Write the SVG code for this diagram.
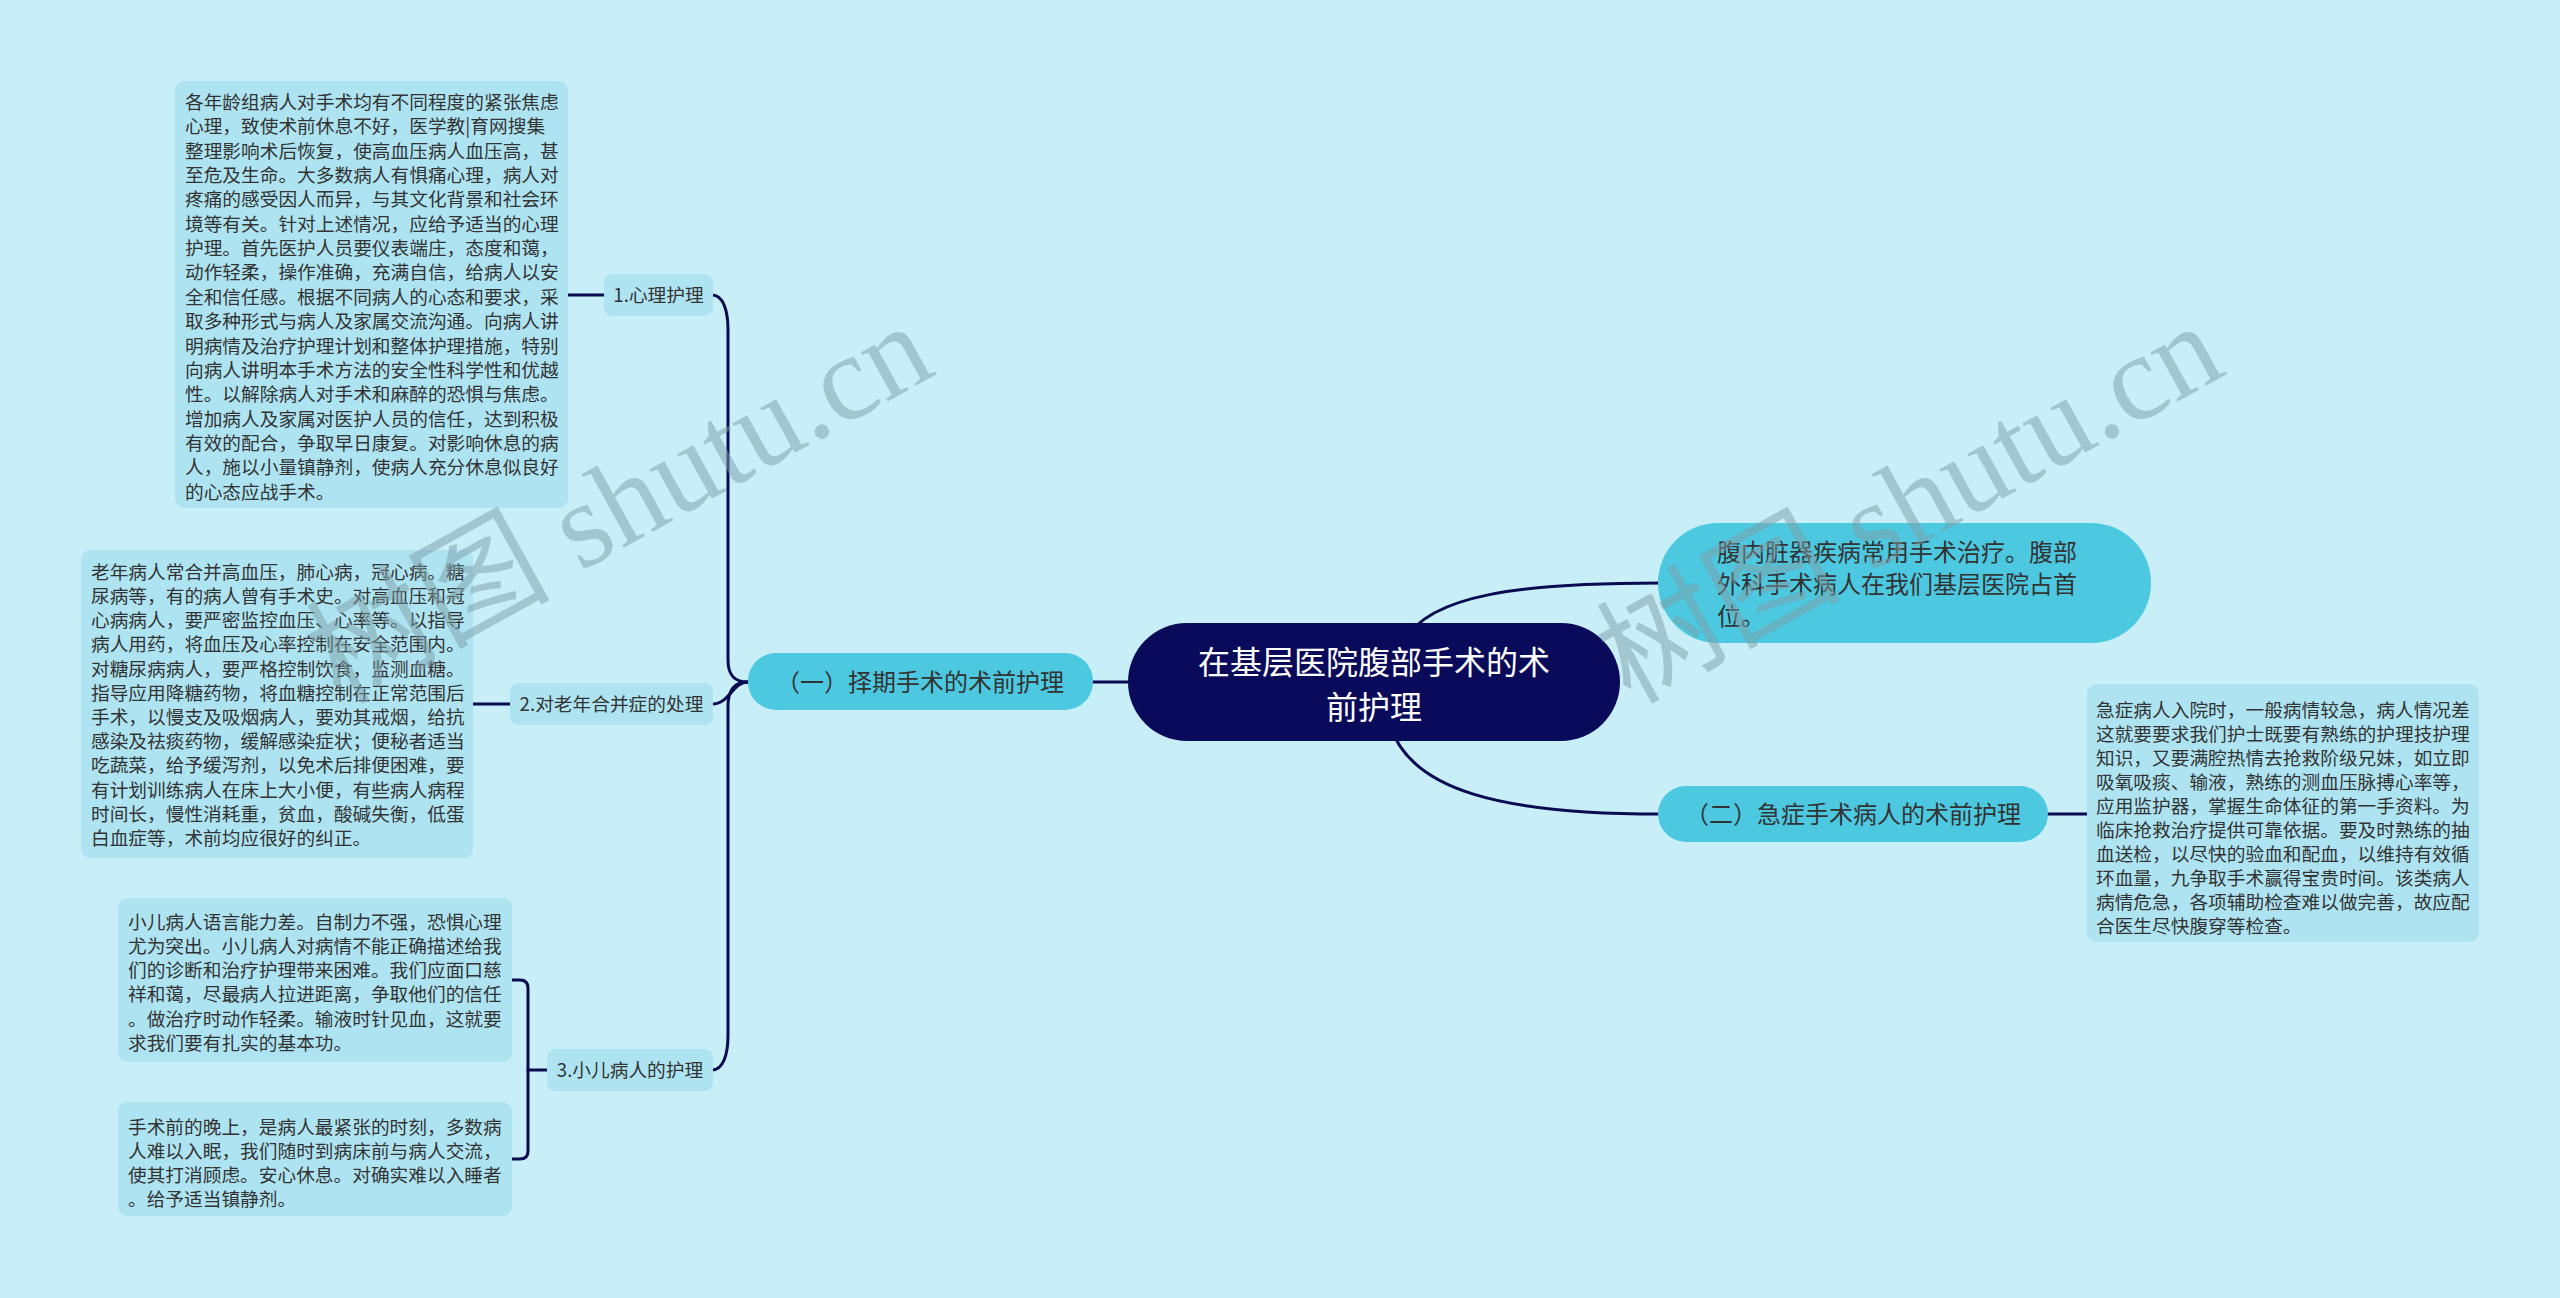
<svg xmlns="http://www.w3.org/2000/svg" width="2560" height="1298" viewBox="0 0 2560 1298">
<style>
text{font-family:"Noto Sans CJK SC","Noto Sans",sans-serif;fill:#333333}
.box{fill:#AEE4F1}
.main{fill:#4CC8E0}
.t{font-size:18.7px}
.m{font-size:24px}
.c{font-size:32px;fill:#FFFFFF}
.conn{fill:none;stroke:#0A0A52;stroke-width:3;stroke-linecap:round}
.wm{font-family:"Liberation Serif","Noto Sans CJK SC",serif;font-size:122px;fill:#7E9FA8;opacity:0.5}
</style>
<rect x="0" y="0" width="2560" height="1298" fill="#C8EFF7"/>
<g id="connectors">
<path class="conn" d="M1405,640 C1430,595 1520,583 1660,583"/>
<path class="conn" d="M1390,725 C1410,790 1500,814 1660,814"/>
<path class="conn" d="M1093,682 H1130"/>
<path class="conn" d="M748,682 C735,682 728,676 728,660 L728,330 C728,310 723,295 712,295"/>
<path class="conn" d="M748,682 C732,682 730,704 712,704"/>
<path class="conn" d="M748,682 C735,682 728,690 728,706 L728,1035 C728,1055 723,1070 712,1070"/>
<path class="conn" d="M604,295 H568"/>
<path class="conn" d="M510,704 H473"/>
<path class="conn" d="M547,1070 H528"/>
<path class="conn" d="M512,980 H520 Q528,980 528,988 V1151 Q528,1159 520,1159 H512"/>
<path class="conn" d="M2048,814 H2087"/>
</g>
<g id="center">
<rect x="1128" y="623" width="492" height="118" rx="59" fill="#0A0A5A"/>
<text class="c" x="1374" y="674" text-anchor="middle">在基层医院腹部手术的术</text>
<text class="c" x="1374" y="719" text-anchor="middle">前护理</text>
</g>
<g id="intro">
<rect class="main" x="1658" y="523" width="493" height="120" rx="60"/>
<text class="m" x="1717" y="561">腹内脏器疾病常用手术治疗。腹部</text>
<text class="m" x="1717" y="593">外科手术病人在我们基层医院占首</text>
<text class="m" x="1717" y="625">位。</text>
</g>
<g id="branch1">
<rect class="main" x="748" y="653" width="345" height="57" rx="28"/>
<text class="m" x="920" y="691" text-anchor="middle">（一）择期手术的术前护理</text>
</g>
<g id="branch2">
<rect class="main" x="1658" y="786" width="390" height="56" rx="28"/>
<text class="m" x="1853" y="823" text-anchor="middle">（二）急症手术病人的术前护理</text>
</g>
<g id="sub1">
<rect class="box" x="604" y="274" width="109" height="42" rx="8"/>
<text class="t" x="658.5" y="302" text-anchor="middle">1.心理护理</text>
</g>
<g id="sub2">
<rect class="box" x="510" y="683" width="203" height="42" rx="8"/>
<text class="t" x="611.5" y="711" text-anchor="middle">2.对老年合并症的处理</text>
</g>
<g id="sub3">
<rect class="box" x="547" y="1049" width="166" height="42" rx="8"/>
<text class="t" x="630" y="1077" text-anchor="middle">3.小儿病人的护理</text>
</g>
<g id="detail1">
<rect class="box" x="175" y="81" width="393" height="427" rx="9"/>
<text class="t" x="185" y="109">各年龄组病人对手术均有不同程度的紧张焦虑</text>
<text class="t" x="185" y="133.35">心理，致使术前休息不好，医学教|育网搜集</text>
<text class="t" x="185" y="157.7">整理影响术后恢复，使高血压病人血压高，甚</text>
<text class="t" x="185" y="182.05">至危及生命。大多数病人有惧痛心理，病人对</text>
<text class="t" x="185" y="206.4">疼痛的感受因人而异，与其文化背景和社会环</text>
<text class="t" x="185" y="230.75">境等有关。针对上述情况，应给予适当的心理</text>
<text class="t" x="185" y="255.1">护理。首先医护人员要仪表端庄，态度和蔼，</text>
<text class="t" x="185" y="279.45">动作轻柔，操作准确，充满自信，给病人以安</text>
<text class="t" x="185" y="303.8">全和信任感。根据不同病人的心态和要求，采</text>
<text class="t" x="185" y="328.15">取多种形式与病人及家属交流沟通。向病人讲</text>
<text class="t" x="185" y="352.5">明病情及治疗护理计划和整体护理措施，特别</text>
<text class="t" x="185" y="376.85">向病人讲明本手术方法的安全性科学性和优越</text>
<text class="t" x="185" y="401.2">性。以解除病人对手术和麻醉的恐惧与焦虑。</text>
<text class="t" x="185" y="425.55">增加病人及家属对医护人员的信任，达到积极</text>
<text class="t" x="185" y="449.9">有效的配合，争取早日康复。对影响休息的病</text>
<text class="t" x="185" y="474.25">人，施以小量镇静剂，使病人充分休息似良好</text>
<text class="t" x="185" y="498.6">的心态应战手术。</text>
</g>
<g id="detail2">
<rect class="box" x="81" y="550" width="392" height="308" rx="9"/>
<text class="t" x="91" y="578.7">老年病人常合并高血压，肺心病，冠心病。糖</text>
<text class="t" x="91" y="602.9">尿病等，有的病人曾有手术史。对高血压和冠</text>
<text class="t" x="91" y="627.1">心病病人，要严密监控血压、心率等。以指导</text>
<text class="t" x="91" y="651.3">病人用药，将血压及心率控制在安全范围内。</text>
<text class="t" x="91" y="675.5">对糖尿病病人，要严格控制饮食，监测血糖。</text>
<text class="t" x="91" y="699.7">指导应用降糖药物，将血糖控制在正常范围后</text>
<text class="t" x="91" y="723.9">手术，以慢支及吸烟病人，要劝其戒烟，给抗</text>
<text class="t" x="91" y="748.1">感染及祛痰药物，缓解感染症状；便秘者适当</text>
<text class="t" x="91" y="772.3">吃蔬菜，给予缓泻剂，以免术后排便困难，要</text>
<text class="t" x="91" y="796.5">有计划训练病人在床上大小便，有些病人病程</text>
<text class="t" x="91" y="820.7">时间长，慢性消耗重，贫血，酸碱失衡，低蛋</text>
<text class="t" x="91" y="844.9">白血症等，术前均应很好的纠正。</text>
</g>
<g id="detail3">
<rect class="box" x="118" y="898" width="394" height="164" rx="9"/>
<text class="t" x="128" y="928.7">小儿病人语言能力差。自制力不强，恐惧心理</text>
<text class="t" x="128" y="952.9">尤为突出。小儿病人对病情不能正确描述给我</text>
<text class="t" x="128" y="977.1">们的诊断和治疗护理带来困难。我们应面口慈</text>
<text class="t" x="128" y="1001.3">祥和蔼，尽最病人拉进距离，争取他们的信任</text>
<text class="t" x="128" y="1025.5">。做治疗时动作轻柔。输液时针见血，这就要</text>
<text class="t" x="128" y="1049.7">求我们要有扎实的基本功。</text>
</g>
<g id="detail4">
<rect class="box" x="118" y="1102" width="394" height="114" rx="9"/>
<text class="t" x="128" y="1133.7">手术前的晚上，是病人最紧张的时刻，多数病</text>
<text class="t" x="128" y="1157.9">人难以入眠，我们随时到病床前与病人交流，</text>
<text class="t" x="128" y="1182.1">使其打消顾虑。安心休息。对确实难以入睡者</text>
<text class="t" x="128" y="1206.3">。给予适当镇静剂。</text>
</g>
<g id="detail5">
<rect class="box" x="2087" y="684" width="392" height="258" rx="9"/>
<text class="t" x="2096" y="717">急症病人入院时，一般病情较急，病人情况差</text>
<text class="t" x="2096" y="741">这就要要求我们护士既要有熟练的护理技护理</text>
<text class="t" x="2096" y="765">知识，又要满腔热情去抢救阶级兄妹，如立即</text>
<text class="t" x="2096" y="789">吸氧吸痰、输液，熟练的测血压脉搏心率等，</text>
<text class="t" x="2096" y="813">应用监护器，掌握生命体征的第一手资料。为</text>
<text class="t" x="2096" y="837">临床抢救治疗提供可靠依据。要及时熟练的抽</text>
<text class="t" x="2096" y="861">血送检，以尽快的验血和配血，以维持有效循</text>
<text class="t" x="2096" y="885">环血量，九争取手术赢得宝贵时间。该类病人</text>
<text class="t" x="2096" y="909">病情危急，各项辅助检查难以做完善，故应配</text>
<text class="t" x="2096" y="933">合医生尽快腹穿等检查。</text>
</g>
<g id="watermarks">
<text class="wm" transform="translate(340,705) rotate(-29)">树图 shutu.cn</text>
<text class="wm" transform="translate(1630,705) rotate(-29)">树图 shutu.cn</text>
</g>
</svg>
